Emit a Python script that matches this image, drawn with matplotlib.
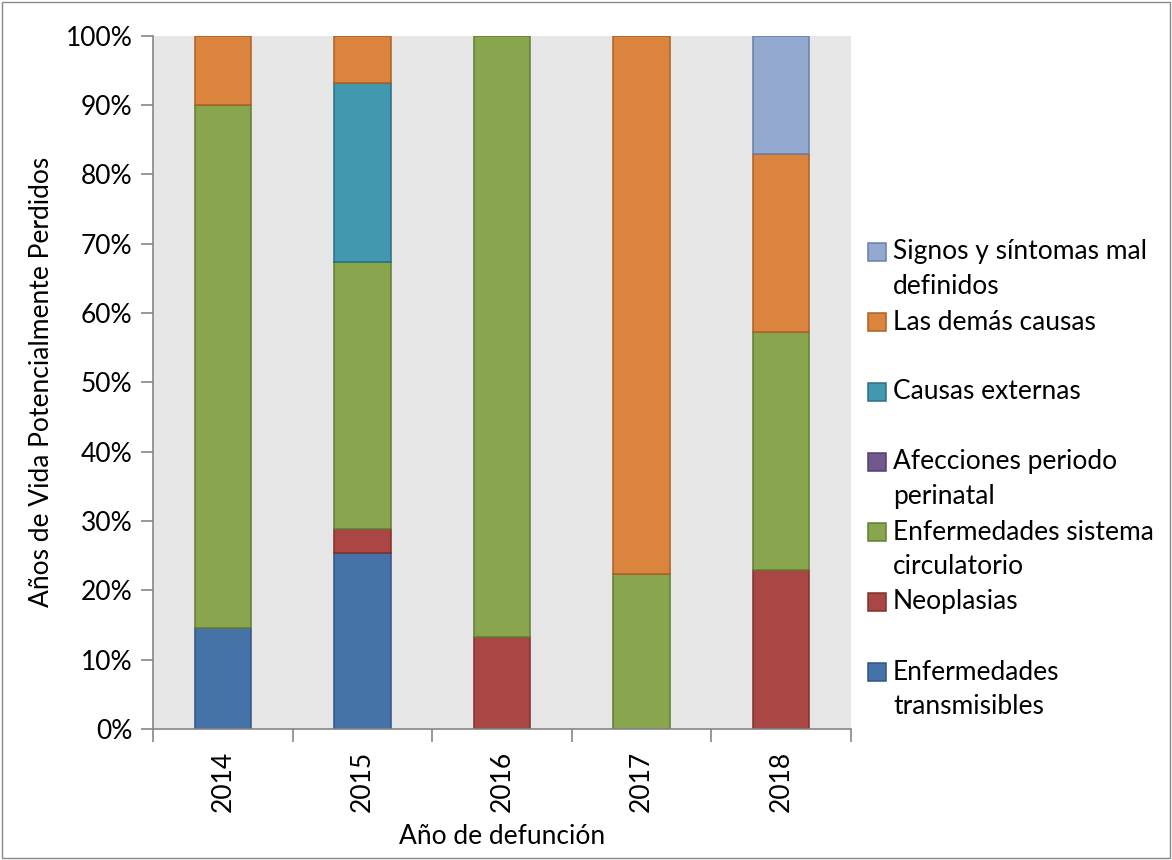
import matplotlib
matplotlib.use("Agg")
import matplotlib.pyplot as plt
from matplotlib.patches import Rectangle
from matplotlib.ticker import FuncFormatter, MultipleLocator
import numpy as np

# años y porcentaje de AVPP por grupo de causa (de abajo hacia arriba en la pila)
anios = ["2014", "2015", "2016", "2017", "2018"]
transmisibles = [14.6, 25.4, 0.0, 0.0, 0.0]
neoplasias = [0.0, 3.4, 13.2, 0.0, 22.9]
circulatorio = [75.4, 38.5, 86.8, 22.3, 34.3]
perinatal = [0.0, 0.0, 0.0, 0.0, 0.0]
externas = [0.0, 25.9, 0.0, 0.0, 0.0]
demas = [10.0, 6.8, 0.0, 77.7, 25.8]
signos = [0.0, 0.0, 0.0, 0.0, 17.0]

series = [
    ("Enfermedades\ntransmisibles", transmisibles, "#4572A7", "#2F5485"),
    ("Neoplasias", neoplasias, "#AA4643", "#80302F"),
    ("Enfermedades sistema\ncirculatorio", circulatorio, "#89A54E", "#637D35"),
    ("Afecciones periodo\nperinatal", perinatal, "#71588F", "#51406B"),
    ("Causas externas", externas, "#4198AF", "#2B6F83"),
    ("Las demás causas", demas, "#DB843D", "#AE5F26"),
    ("Signos y síntomas mal\ndefinidos", signos, "#93A9CF", "#6A7FA6"),
]

plt.rcParams["font.family"] = ["Lato", "DejaVu Sans"]
FS = 19

W, H = 1172, 860
fig = plt.figure(figsize=(W / 100, H / 100), dpi=100)

# area de trazado en pixeles
x0, x1, y_top, y_bot = 153.3, 850.5, 35.7, 729.0
ax = fig.add_axes([x0 / W, 1 - y_bot / H, (x1 - x0) / W, (y_bot - y_top) / H])
ax.set_facecolor("#E6E6E6")

x = np.arange(len(anios))
base = np.zeros(len(anios))
for nombre, vals, fill, edge in series:
    v = np.array(vals) / 100.0
    lw = [1.1 if h > 0 else 0 for h in v]
    ax.bar(x, v, width=0.405, bottom=base, color=fill, edgecolor=edge,
           linewidth=lw, zorder=2)
    base += v

ax.set_xlim(-0.5, len(anios) - 0.5)
ax.set_ylim(0, 1)
ax.yaxis.set_major_locator(MultipleLocator(0.1))
ax.yaxis.set_major_formatter(FuncFormatter(lambda v, p: f"{v * 100:.0f}%"))

ax.set_xticks(x)
ax.set_xticklabels(anios, rotation=90)
ax.set_xticks(np.arange(-0.5, len(anios)), minor=True)
ax.tick_params(axis="x", which="major", length=0, pad=16, labelsize=FS)
ax.tick_params(axis="x", which="minor", length=9, width=1.2, color="#868686")
ax.tick_params(axis="y", length=9, width=1.2, color="#868686", pad=6, labelsize=FS)

for s in ["top", "right"]:
    ax.spines[s].set_visible(False)
for s in ["left", "bottom"]:
    ax.spines[s].set_color("#868686")
    ax.spines[s].set_linewidth(1.2)

ax.set_xlabel("Año de defunción", fontsize=FS, labelpad=8)
ax.set_ylabel("Años de Vida Potencialmente Perdidos", fontsize=FS, labelpad=8)

# leyenda dibujada a mano: cada entrada ocupa dos renglones de 35 px
fila = 35
y_ent = 252
for nombre, vals, fill, edge in reversed(series):
    fig.patches.append(Rectangle((868 / W, 1 - (y_ent + 9) / H), 18 / W, 18 / H,
                                 transform=fig.transFigure, facecolor=fill,
                                 edgecolor=edge, linewidth=1.1))
    for i, linea in enumerate(nombre.split("\n")):
        fig.text(893 / W, 1 - (y_ent + i * fila) / H, linea, fontsize=FS,
                 va="center", ha="left")
    y_ent += 2 * fila

# borde del grafico
fig.patches.append(Rectangle((2 / W, 2 / H), (W - 4) / W, (H - 4) / H,
                             transform=fig.transFigure, fill=False,
                             edgecolor="#898989", linewidth=1.0))

fig.savefig("out.png", dpi=100)
